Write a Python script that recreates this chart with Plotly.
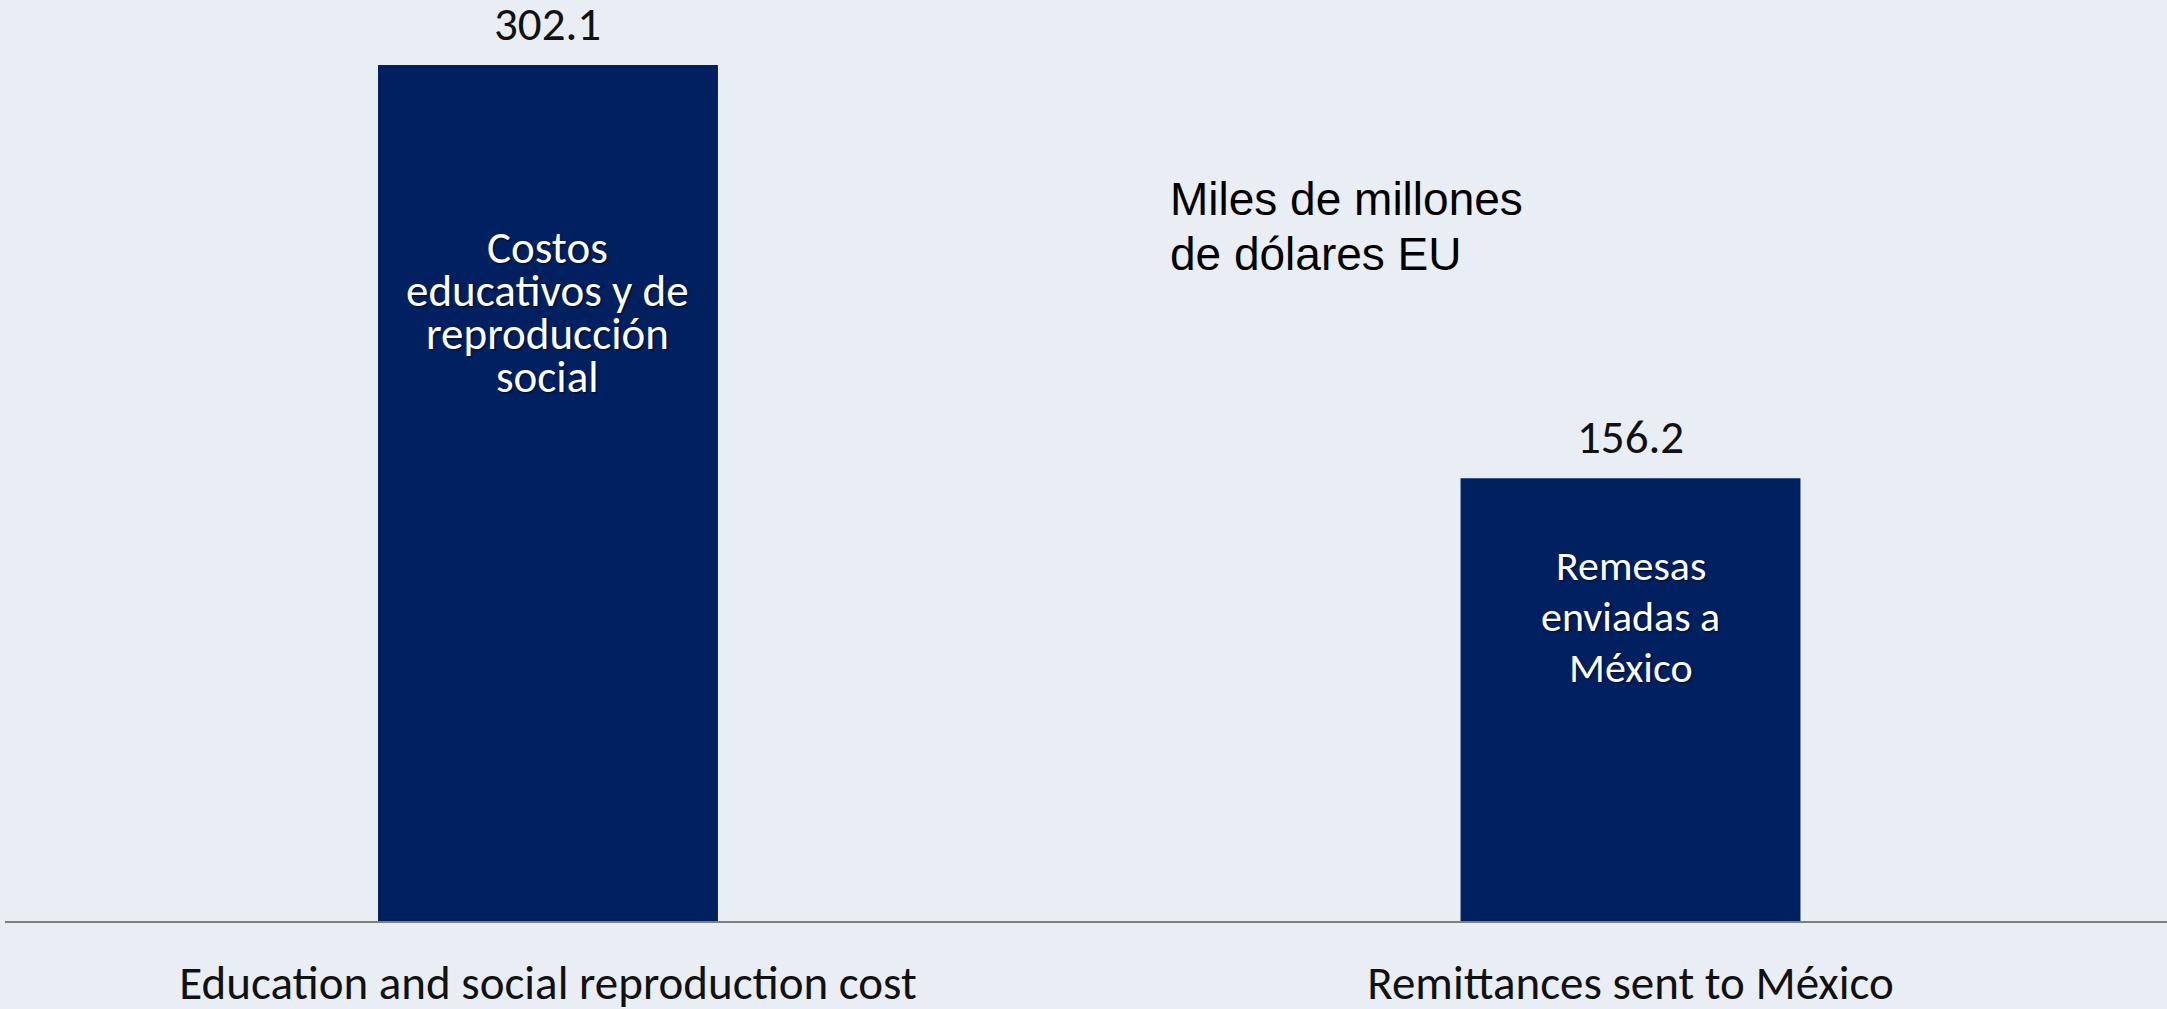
import plotly.graph_objects as go

categories = ["Education and social reproduction cost", "Remittances sent to México"]
values = [302.1, 156.2]
value_labels = ["302.1", "156.2"]
inner_lines = [
    ["Costos", "educativos y de", "reproducción", "social"],
    ["Remesas", "enviadas a", "México"],
]
unit_lines = ["Miles de millones", "de dólares EU"]

BG = "#e9edf4"
NAVY = "#002060"
LABEL_FONT = "Calibri, Carlito, Lato, sans-serif"

fig = go.Figure()
fig.add_trace(go.Bar(
    x=[0, 1], y=values, width=0.314,
    marker=dict(color=NAVY, line=dict(width=0)),
    hoverinfo="skip", showlegend=False,
))

ann = []
# value labels above bars
for i, (v, t) in enumerate(zip(values, value_labels)):
    ann.append(dict(x=i, y=v, xref="x", yref="y", text=t, showarrow=False,
                    yanchor="middle", yshift=41,
                    font=dict(family=LABEL_FONT, size=47, color="#111111")))

# inner labels (per line for tight spacing)
inner_cfg = [dict(size=45, first=-183, step=-43), dict(size=42, first=-87, step=-51)]
for i, lines in enumerate(inner_lines):
    cfg = inner_cfg[i]
    for k, line in enumerate(lines):
        ann.append(dict(x=i, y=values[i], xref="x", yref="y", text=line, showarrow=False,
                        yanchor="middle", yshift=cfg["first"] + k * cfg["step"],
                        font=dict(family=LABEL_FONT, size=cfg["size"], color="white",
                                  shadow="1px 1px 2px rgba(0,0,0,0.6)")))

# unit note
for k, line in enumerate(unit_lines):
    ann.append(dict(x=0.5380, y=0.7839 - k * 0.0597, xref="paper", yref="paper",
                    text=line, showarrow=False, xanchor="left", yanchor="middle",
                    font=dict(family="Arial, Liberation Sans, sans-serif", size=46, color="black")))

fig.update_layout(
    width=2167, height=1009,
    margin=dict(l=5, r=0, t=0, b=88, autoexpand=False),
    paper_bgcolor=BG, plot_bgcolor=BG,
    annotations=ann,
    xaxis=dict(range=[-0.5016, 1.4956], tickmode="array", tickvals=[0, 1], ticktext=categories,
               showgrid=False, zeroline=False, showline=True, linecolor="#7f7f7f", linewidth=2,
               ticks="", ticklabelstandoff=20, automargin=False,
               tickfont=dict(family=LABEL_FONT, size=47, color="#111111")),
    yaxis=dict(range=[0, 325.0], visible=False, showgrid=False, zeroline=False, automargin=False),
)

fig.write_html("out.html", config={"displayModeBar": False},
               post_script="document.body.style.margin='0';document.body.style.overflow='hidden';")
